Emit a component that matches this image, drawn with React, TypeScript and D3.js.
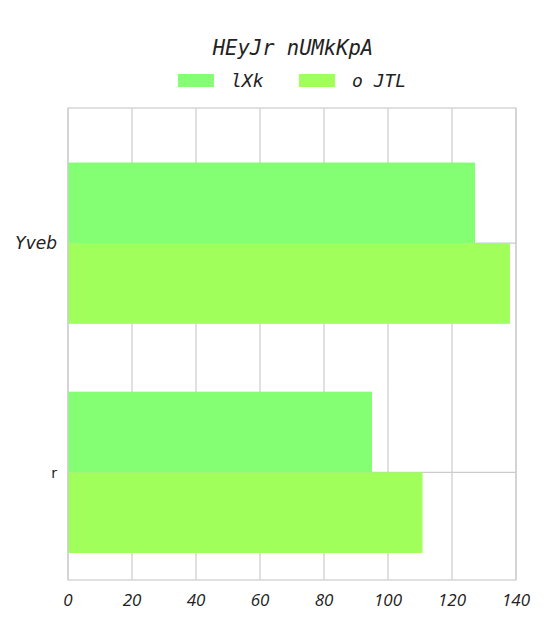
import * as d3 from "d3";
import { useEffect, useRef } from "react";

const categories = ["Yveb", "r"];
const seriesNames = ["lXk", "o JTL"];
const seriesA = [127.2, 95];
const seriesB = [138.1, 110.8];
const xTicks = [0, 20, 40, 60, 80, 100, 120, 140];
const colors = ["#84ff73", "#a0ff5a"];

export default function App() {
  const svgRef = useRef<SVGSVGElement | null>(null);
  useEffect(() => {
    if (!svgRef.current) return;
    draw(svgRef.current);
  }, []);
  return (
    <svg
      ref={svgRef}
      width={546}
      height={624}
      style={{ position: "absolute", left: 0, top: 0, background: "#fff" }}
    />
  );
}

function draw(el: SVGSVGElement) {
  const svg = d3.select(el);
  svg.selectAll("*").remove();

  const left = 68, right = 516, top = 108, bottom = 580;

  const x = d3.scaleLinear().domain([0, 140]).range([left, right]);
  // category index -> pixel (index 0 and 1 are the tick positions)
  const y = d3.scaleLinear().domain([-0.59, 1.47]).range([top, bottom]);
  const barH = 0.352;

  // gridlines
  svg.append("g")
    .selectAll("line.vx")
    .data(xTicks)
    .join("line")
    .attr("x1", d => x(d)).attr("x2", d => x(d))
    .attr("y1", top).attr("y2", bottom)
    .attr("stroke", "#cccccc").attr("stroke-width", 1.2);

  svg.append("g")
    .selectAll("line.hy")
    .data(categories)
    .join("line")
    .attr("x1", left).attr("x2", right)
    .attr("y1", (_, i) => y(i)).attr("y2", (_, i) => y(i))
    .attr("stroke", "#cccccc").attr("stroke-width", 1.2);

  // bars
  const series = [seriesA, seriesB];
  series.forEach((vals, s) => {
    svg.append("g")
      .selectAll("rect")
      .data(vals)
      .join("rect")
      .attr("x", x(0))
      .attr("y", (_, i) => y(i - barH + s * barH))
      .attr("width", d => x(d) - x(0))
      .attr("height", y(barH) - y(0))
      .attr("fill", colors[s]);
  });

  // frame
  svg.append("rect")
    .attr("x", left).attr("y", top)
    .attr("width", right - left).attr("height", bottom - top)
    .attr("fill", "none").attr("stroke", "#cccccc").attr("stroke-width", 1.2);

  // x tick labels
  svg.append("g")
    .selectAll("text")
    .data(xTicks)
    .join("text")
    .attr("x", d => x(d))
    .attr("y", 606)
    .attr("text-anchor", "middle")
    .style("font-family", "'Open Sans', sans-serif")
    .style("font-style", "italic")
    .style("font-size", "17px")
    .style("fill", "#222222")
    .text(d => d);

  // y labels
  svg.append("g")
    .selectAll("text")
    .data(categories)
    .join("text")
    .attr("x", 57)
    .attr("y", (_, i) => y(i) + 6)
    .attr("text-anchor", "end")
    .style("font-family", "'DejaVu Sans', sans-serif")
    .style("font-style", (_, i) => (i === 0 ? "oblique" : "normal"))
    .style("font-size", (_, i) => (i === 0 ? "17px" : "14px"))
    .style("fill", "#222222")
    .text(d => d);

  // title
  svg.append("text")
    .attr("x", 293)
    .attr("y", 55)
    .attr("text-anchor", "middle")
    .style("font-family", "'DejaVu Sans Mono', monospace")
    .style("font-style", "oblique")
    .style("font-size", "20.5px")
    .style("fill", "#222222")
    .text("HEyJr nUMkKpA");

  // legend
  const legendX = [178, 299];
  const legend = svg.append("g")
    .selectAll("g")
    .data(seriesNames)
    .join("g")
    .attr("transform", (_, i) => `translate(${legendX[i]},74)`);
  legend.append("rect")
    .attr("width", 36).attr("height", 13)
    .attr("fill", (_, i) => colors[i]);
  legend.append("text")
    .attr("x", 53).attr("y", 13)
    .style("font-family", "'DejaVu Sans Mono', monospace")
    .style("font-style", "oblique")
    .style("font-size", "18px")
    .style("fill", "#222222")
    .text(d => d);
}
